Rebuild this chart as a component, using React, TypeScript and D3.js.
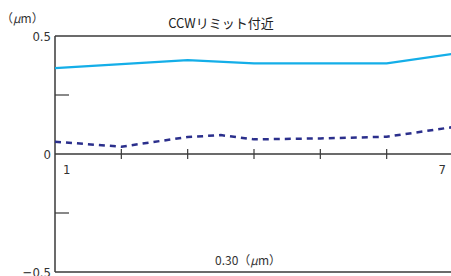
import React from "react";
import * as d3 from "d3";

// values (μm)
const xTicks = [1, 2, 3, 4, 5, 6, 7];
const solidX = [1, 2, 3, 4, 5, 6, 7];
const solidY = [0.364, 0.381, 0.398, 0.384, 0.384, 0.384, 0.424];
const dashX = [1, 2, 3, 3.5, 4, 5, 6, 7];
const dashY = [0.052, 0.031, 0.072, 0.08, 0.062, 0.066, 0.073, 0.114];
const yLabels = [0.5, 0, -0.5];
const yMinor = [0.25, -0.25];

const W = 451;
const H = 276;
const left = 55;

const font = "'Liberation Sans Narrow', 'DejaVu Sans Condensed', 'Noto Sans CJK JP', sans-serif";
const jpFont = "'Noto Sans CJK JP', sans-serif";

export default function App() {
  const x = d3.scaleLinear().domain([1, 7]).range([left, 453]);
  const y = d3.scaleLinear().domain([-0.5, 0.5]).range([272, 36]);

  const line = d3
    .line<[number, number]>()
    .x((d) => x(d[0]))
    .y((d) => y(d[1]));

  const solid = line(solidX.map((v, i) => [v, solidY[i]]) as [number, number][]);
  const dashed = line(dashX.map((v, i) => [v, dashY[i]]) as [number, number][]);

  const axisColor = "#3a3a3a";

  return (
    <div>
      <style>{`body{margin:0}`}</style>
      <svg width={W} height={H} style={{ display: "block", background: "#fff" }}>
        {/* frame */}
        <line x1={left} x2={W} y1={y(0.5)} y2={y(0.5)} stroke={axisColor} strokeWidth={1.5} />
        <line x1={left} x2={W} y1={y(-0.5)} y2={y(-0.5)} stroke={axisColor} strokeWidth={1.5} />
        <line x1={left} x2={left} y1={y(0.5)} y2={y(-0.5)} stroke={axisColor} strokeWidth={1.5} />
        <line x1={left} x2={W} y1={y(0)} y2={y(0)} stroke={axisColor} strokeWidth={1.5} />

        {yMinor.map((v) => (
          <line key={v} x1={left} x2={left + 14} y1={y(v)} y2={y(v)} stroke={axisColor} strokeWidth={1.2} />
        ))}
        {xTicks.slice(1, -1).map((t) => (
          <line key={t} x1={x(t)} x2={x(t)} y1={y(0) - 5} y2={y(0) + 5} stroke={axisColor} strokeWidth={1.2} />
        ))}

        <path d={solid ?? ""} fill="none" stroke="#14aee8" strokeWidth={2.2} />
        <path d={dashed ?? ""} fill="none" stroke="#2b2f8c" strokeWidth={2.5} strokeDasharray="6,5" />

        {/* y labels */}
        {yLabels.map((v) => (
          <text
            key={v}
            x={51}
            y={y(v) + 5}
            textAnchor="end"
            fontFamily={font}
            fontSize={13}
            fill="#333"
          >
            {v < 0 ? "\u2212" + Math.abs(v) : String(v)}
          </text>
        ))}

        {/* x labels */}
        <text x={x(1) + 8} y={174} fontFamily={font} fontSize={13} fill="#333">
          {xTicks[0]}
        </text>
        <text x={x(7) - 7} y={174} textAnchor="end" fontFamily={font} fontSize={13} fill="#333">
          {xTicks[xTicks.length - 1]}
        </text>

        {/* unit */}
        <text x={1} y={23} fontFamily={jpFont} fontSize={12} fill="#333">
          （<tspan fontStyle="italic">μ</tspan>m）
        </text>

        {/* title */}
        <text x={221} y={28} textAnchor="middle" fontFamily={jpFont} fontSize={13} fill="#222">
          CCWリミット付近
        </text>

        {/* scale note */}
        <text x={248} y={265} textAnchor="middle" fontFamily={jpFont} fontSize={12} fill="#333">
          0.30（<tspan fontStyle="italic">μ</tspan>m）
        </text>
      </svg>
    </div>
  );
}
